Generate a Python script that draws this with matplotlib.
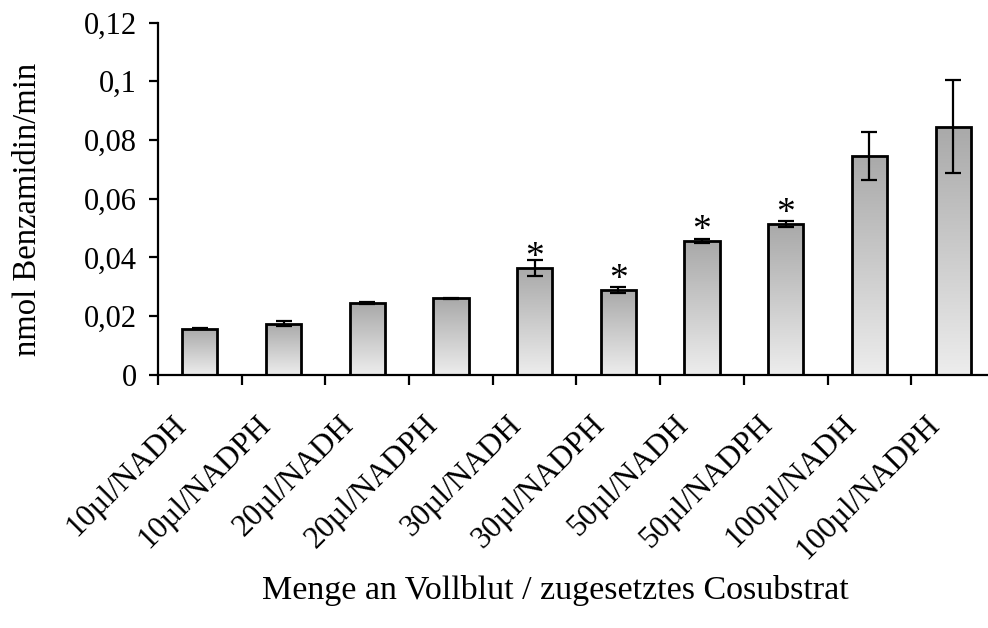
import numpy as np
import matplotlib
matplotlib.use('Agg')
import matplotlib.pyplot as plt
import matplotlib.transforms as mtrans
from matplotlib.colors import LinearSegmentedColormap

labels = ['10µl/NADH', '10µl/NADPH', '20µl/NADH', '20µl/NADPH', '30µl/NADH',
          '30µl/NADPH', '50µl/NADH', '50µl/NADPH', '100µl/NADH', '100µl/NADPH']
werte = [0.0157, 0.0174, 0.0244, 0.0261, 0.0365, 0.0290, 0.0456, 0.0514, 0.0746, 0.0846]
fehler = [0.0002, 0.0008, 0.0003, 0.0001, 0.0027, 0.0010, 0.0007, 0.0011, 0.0082, 0.0157]
stern = [False, False, False, False, True, True, True, True, False, False]

plt.rcParams['font.family'] = ['Liberation Serif', 'DejaVu Serif']

fig = plt.figure(figsize=(9.88, 6.28), dpi=100)
ax = fig.add_axes([0.16, 0.403, 0.847, 0.561])

x = np.arange(len(werte))
breite = 0.42
grau = LinearSegmentedColormap.from_list('grau', ['#ededed', '#a9a9a9'])
verlauf = np.linspace(0, 1, 256).reshape(-1, 1)

bars = ax.bar(x, werte, breite, color='none', edgecolor='black', linewidth=2.0, zorder=3)
for b in bars:
    bx, by = b.get_x(), b.get_y()
    im = ax.imshow(verlauf, cmap=grau, origin='lower', aspect='auto',
                   extent=[bx, bx + b.get_width(), by, by + b.get_height()], zorder=2)
    im.set_clip_path(b)

ax.errorbar(x, werte, yerr=fehler, fmt='none', ecolor='black', elinewidth=1.6,
            capsize=5.5, capthick=1.6, zorder=4)

for i in range(len(werte)):
    if stern[i]:
        ax.annotate('*', (x[i], werte[i]), xytext=(0, -5), textcoords='offset points',
                    ha='center', va='bottom', fontsize=27, zorder=5)

ax.set_xlim(-0.5, len(werte) - 0.5)
ax.set_ylim(0, 0.12)
ax.set_yticks(np.arange(0, 0.121, 0.02))
ax.set_yticklabels(['0', '0,02', '0,04', '0,06', '0,08', '0,1', '0,12'], fontsize=22)
ax.set_xticks(x)
ax.set_xticklabels(labels, rotation=45, ha='right', rotation_mode='anchor', fontsize=22.5)
ax.set_xticks(np.arange(-0.5, len(werte), 1), minor=True)
ax.tick_params(axis='x', which='major', length=0, pad=22)
ax.tick_params(axis='x', which='minor', length=7, width=1.6, direction='out')
ax.tick_params(axis='y', length=6.5, width=1.6, direction='out', pad=9)

# Beschriftungen etwas nach links unten schieben
versatz = mtrans.ScaledTranslation(-0.28, -0.05, fig.dpi_scale_trans)
for t in ax.get_xticklabels():
    t.set_transform(t.get_transform() + versatz)

for s in ['top', 'right']:
    ax.spines[s].set_visible(False)
for s in ['left', 'bottom']:
    ax.spines[s].set_linewidth(1.6)

fig.text(0.028, 0.667, 'nmol Benzamidin/min', rotation=90, ha='center', va='center', fontsize=23.5)
fig.text(0.562, 0.06, 'Menge an Vollblut / zugesetztes Cosubstrat', ha='center', va='center', fontsize=24.5)

plt.savefig('out.png', dpi=100)
